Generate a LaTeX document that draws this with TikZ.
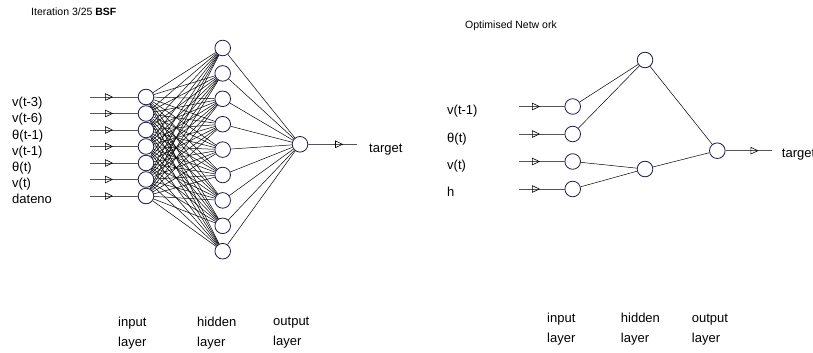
\documentclass[tikz,border=0pt]{standalone}
\usepackage{fontspec}
\setmainfont{Liberation Sans}
\usetikzlibrary{arrows.meta,decorations.markings,backgrounds}
\definecolor{nodeblue}{HTML}{1A1A50}
\definecolor{linegray}{HTML}{555555}
\newcommand{\lblfont}{\fontsize{13pt}{20pt}\selectfont}
\newcommand{\ttlfont}{\fontsize{10.5pt}{12pt}\selectfont}
\begin{document}
\begin{tikzpicture}[x=1pt,y=-1pt,
  neuron/.style={circle, draw=nodeblue, fill=white, line width=0.8pt, minimum size=15.6pt, inner sep=0pt},
  conn/.style={line width=0.5pt, black},
  ioline/.style={line width=0.9pt, draw=linegray, postaction={decorate},
    decoration={markings, mark=at position #1 with {\arrow[line width=0.6pt, black]{Triangle[open, length=8pt, width=7.5pt]}}}},
  lbl/.style={font=\lblfont, inner sep=0pt, anchor=west, text height=0.75em, text depth=0.2em},
  layerlbl/.style={font=\lblfont, inner sep=0pt, anchor=west, align=left},
  ttl/.style={font=\ttlfont, inner sep=0pt, anchor=west}
]
\useasboundingbox (0,0) rectangle (813,353);

% ---------- left network ----------
\node[ttl] (t1) at (31,12) {Iteration 3/25 \textbf{BSF}};

\foreach \k in {1,...,7} {
  \node[neuron] (i\k) at (146,{97+16.5*(\k-1)}) {};
  \coordinate (ci\k) at (90,{97+16.5*(\k-1)});
}
\foreach \k in {1,...,9}
  \node[neuron] (h\k) at (222.7,{48+25.4*(\k-1)}) {};
\node[neuron] (o) at (300,144.3) {};
\coordinate (ot) at (356.7,144.3);

\foreach \t [count=\k] in {v(t-3),v(t-6),θ(t-1),v(t-1),θ(t),v(t),dateno}
  \node[lbl] (l\k) at (12,{104+16.2*(\k-1)}) {\t};
\node[lbl] (tg1) at (369,150) {target};

\begin{scope}[on background layer]
  \foreach \a in {1,...,7}
    \foreach \b in {1,...,9}
      \draw[conn] (i\a) -- (h\b);
  \foreach \b in {1,...,9}
    \draw[conn] (h\b) -- (o);
\end{scope}
\foreach \k in {1,...,7}
  \draw[ioline=23pt] (ci\k) -- (i\k);
\draw[ioline=35pt] (o) -- (ot);

\node[layerlbl] (la1) at (118,333) {input\\layer};
\node[layerlbl] (la2) at (197,333) {hidden\\layer};
\node[layerlbl] (la3) at (273,333) {output\\layer};

% ---------- right network ----------
\node[ttl] (t2) at (465,26) {Optimised Netw ork};

\node[neuron] (ri1) at (572.7,106.5) {};
\node[neuron] (ri2) at (572.7,134) {};
\node[neuron] (ri3) at (572.7,161.5) {};
\node[neuron] (ri4) at (572.7,189) {};
\foreach \k/\y in {1/106.5,2/134,3/161.5,4/189}
  \coordinate (rci\k) at (519,\y);
\node[neuron] (rh1) at (645,60) {};
\node[neuron] (rh2) at (645,169) {};
\node[neuron] (ro) at (717.3,150.7) {};
\coordinate (rot) at (771.7,150.7);

\node[lbl] (rl1) at (447,111.7) {v(t-1)};
\node[lbl] (rl2) at (447,139.5) {θ(t)};
\node[lbl] (rl3) at (447,166.7) {v(t)};
\node[lbl] (rl4) at (447,193.5) {h};
\node[lbl] (tg2) at (781.7,155) {target};

\begin{scope}[on background layer]
  \draw[conn] (ri1) -- (rh1);
  \draw[conn] (ri2) -- (rh1);
  \draw[conn] (ri3) -- (rh2);
  \draw[conn] (ri4) -- (rh2);
  \draw[conn] (rh1) -- (ro);
  \draw[conn] (rh2) -- (ro);
\end{scope}
\foreach \k in {1,...,4}
  \draw[ioline=21pt] (rci\k) -- (ri\k);
\draw[ioline=33pt] (ro) -- (rot);

\node[layerlbl] (rla1) at (547,329.5) {input\\layer};
\node[layerlbl] (rla2) at (620.7,329.5) {hidden\\layer};
\node[layerlbl] (rla3) at (691.7,329.5) {output\\layer};
\end{tikzpicture}
\end{document}
